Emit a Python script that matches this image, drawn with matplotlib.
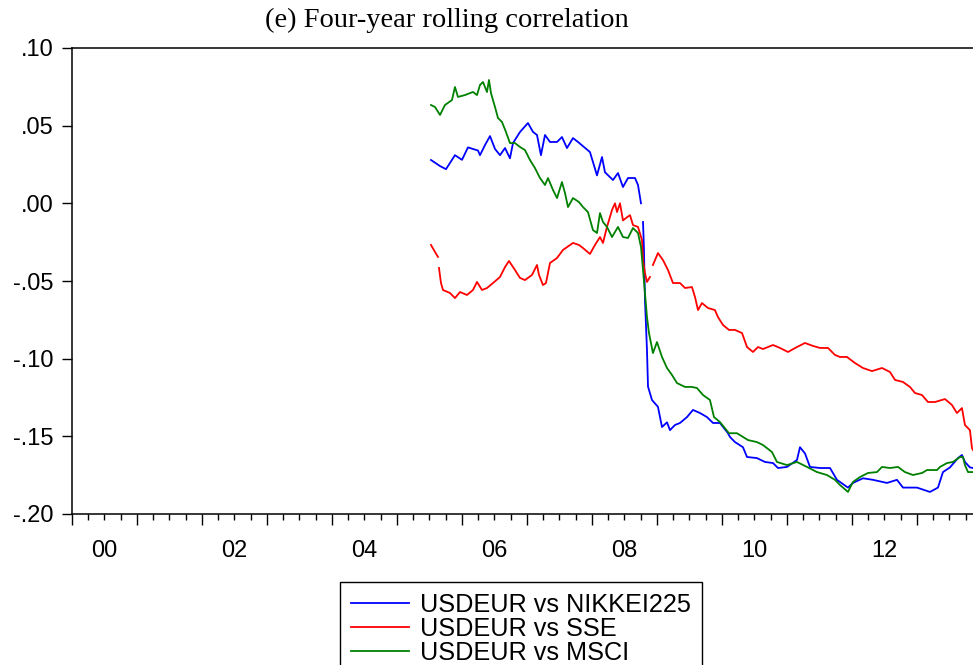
import numpy as np
import matplotlib
matplotlib.use('Agg')
import matplotlib.pyplot as plt
from matplotlib.ticker import MultipleLocator

plt.rcParams['font.family']=['Liberation Sans','DejaVu Sans']

# USDEUR vs NIKKEI225
t_nikkei=np.array([2005.523,2005.662,2005.754,2005.892,2006.000,2006.092,2006.246,2006.277,2006.354,2006.431,
    2006.508,2006.585,2006.662,2006.738,2006.785,2006.892,2007.015,2007.092,2007.154,2007.215,
    2007.277,2007.354,2007.462,2007.538,2007.615,2007.708,2007.785,2007.969,2008.077,2008.154,
    2008.200,2008.323,2008.400,2008.477,2008.554,2008.662,2008.708,2008.754,2008.770,2008.785,
    2008.800,2008.815,2008.846,2008.862,2008.923,2009.015,2009.077,2009.154,2009.200,2009.277,
    2009.354,2009.462,2009.554,2009.662,2009.769,2009.862,2009.969,2010.092,2010.123,2010.200,
    2010.323,2010.385,2010.538,2010.662,2010.785,2010.862,2011.000,2011.154,2011.200,2011.277,
    2011.354,2011.508,2011.662,2011.769,2011.938,2012.015,2012.169,2012.323,2012.538,2012.692,
    2012.785,2013.000,2013.200,2013.323,2013.400,2013.508,2013.631,2013.692,2013.738,2013.815,
    2013.862])
r_nikkei=np.array([.0279,.024,.022,.031,.028,.036,.034,.031,.0375,.0433,
    .035,.031,.0356,.029,.0388,.0459,.0517,.046,.044,.031,
    .044,.0395,.0395,.0427,.0356,.042,.0395,.033,.018,.0298,
    .020,.015,.0195,.0105,.0163,.0163,.0118,.000,np.nan,-.012,
    -.030,-.062,-.0944,-.118,-.1266,-.131,-.144,-.141,-.146,-.1427,
    -.1414,-.1376,-.133,-.135,-.1376,-.1414,-.1414,-.148,-.1504,-.1537,
    -.157,-.1633,-.164,-.1665,-.1672,-.1704,-.1697,-.1652,-.157,-.161,
    -.1697,-.1704,-.1704,-.178,-.183,-.180,-.177,-.178,-.180,-.178,
    -.183,-.183,-.1858,-.183,-.173,-.170,-.164,-.162,-.1665,-.170,
    -.1704])

# USDEUR vs SSE
t_sse=np.array([2005.523,2005.585,2005.631,2005.640,2005.646,2005.677,2005.708,2005.815,2005.892,2005.969,
    2006.077,2006.169,2006.231,2006.308,2006.385,2006.477,2006.585,2006.662,2006.723,2006.815,
    2006.892,2006.969,2007.077,2007.154,2007.185,2007.246,2007.292,2007.354,2007.462,2007.554,
    2007.708,2007.800,2007.862,2007.969,2008.046,2008.123,2008.169,2008.231,2008.308,2008.354,
    2008.385,2008.431,2008.477,2008.538,2008.585,2008.631,2008.708,2008.769,2008.785,2008.815,
    2008.846,2008.892,2008.915,2008.938,2009.015,2009.092,2009.169,2009.246,2009.354,2009.431,
    2009.538,2009.585,2009.631,2009.692,2009.785,2009.892,2009.938,2010.015,2010.108,2010.200,
    2010.308,2010.385,2010.477,2010.554,2010.631,2010.785,2010.892,2011.015,2011.154,2011.277,
    2011.400,2011.508,2011.631,2011.738,2011.815,2011.923,2012.046,2012.169,2012.308,2012.462,
    2012.585,2012.662,2012.785,2012.892,2012.969,2013.077,2013.169,2013.277,2013.431,2013.538,
    2013.615,2013.692,2013.738,2013.815,2013.846,2013.862])
r_sse=np.array([-.0268,-.0313,-.0345,np.nan,-.0416,-.0513,-.0558,-.0577,-.061,-.0571,
    -.059,-.0558,-.0506,-.0558,-.0545,-.0513,-.0474,-.041,-.0371,-.0429,
    -.048,-.0494,-.0461,-.0397,-.0461,-.0526,-.0513,-.0384,-.0352,-.030,
    -.0255,-.0268,-.0288,-.0326,-.0268,-.0217,-.0255,-.0152,-.0043,0.0,
    -.0056,0.0,-.011,-.009,-.0076,-.014,-.0152,-.0236,-.0365,-.0449,
    -.0506,-.0474,np.nan,-.0397,-.032,-.0365,-.0429,-.0513,-.0513,-.0545,
    -.0539,-.0603,-.0687,-.0642,-.0674,-.0687,-.0732,-.0783,-.0815,-.0815,
    -.0835,-.0925,-.0957,-.0925,-.0938,-.0912,-.0931,-.0957,-.0925,-.0899,
    -.0918,-.0931,-.0931,-.0976,-.0989,-.0989,-.1028,-.106,-.108,-.106,
    -.1086,-.1137,-.115,-.1182,-.1221,-.1234,-.1279,-.1279,-.126,-.1298,
    -.135,-.1318,-.1427,-.146,-.1575,-.1588])

# USDEUR vs MSCI
t_msci=np.array([2005.523,2005.585,2005.662,2005.738,2005.846,2005.892,2005.938,2006.046,2006.169,2006.231,
    2006.277,2006.323,2006.385,2006.415,2006.446,2006.508,2006.554,2006.615,2006.677,2006.738,
    2006.815,2006.892,2006.969,2007.046,2007.123,2007.200,2007.277,2007.323,2007.400,2007.462,
    2007.538,2007.585,2007.631,2007.708,2007.800,2007.862,2007.938,2008.015,2008.077,2008.123,
    2008.169,2008.231,2008.308,2008.400,2008.477,2008.554,2008.631,2008.708,2008.754,2008.785,
    2008.815,2008.846,2008.877,2008.938,2009.000,2009.077,2009.154,2009.231,2009.308,2009.431,
    2009.538,2009.615,2009.708,2009.815,2009.877,2009.969,2010.108,2010.231,2010.323,2010.400,
    2010.538,2010.631,2010.769,2010.846,2011.000,2011.154,2011.308,2011.462,2011.615,2011.738,
    2011.815,2011.938,2012.015,2012.123,2012.246,2012.385,2012.462,2012.585,2012.708,2012.815,
    2012.938,2013.077,2013.154,2013.308,2013.354,2013.462,2013.554,2013.662,2013.708,2013.738,
    2013.785,2013.862])
r_msci=np.array([.0633,.062,.0569,.0633,.0665,.0749,.0685,.0697,.0717,.0697,
    .0762,.0781,.0717,.0794,.071,.062,.0549,.0524,.0459,.0388,
    .0388,.0363,.0343,.0279,.0227,.0163,.0118,.0163,.0086,.0034,
    .0137,.0066,-.0024,.0034,.0008,-.0024,-.0056,-.0172,-.0191,-.0063,
    -.012,-.0152,-.0217,-.0152,-.0217,-.0223,-.0159,-.0191,-.0281,-.0429,
    -.0577,-.0732,-.0835,-.0964,-.0893,-.0989,-.106,-.1105,-.1157,-.1182,
    -.1182,-.1189,-.1234,-.1266,-.1376,-.1408,-.148,-.148,-.1504,-.1524,
    -.1537,-.1556,-.1601,-.1665,-.1685,-.1665,-.1697,-.173,-.1749,-.178,
    -.1813,-.1858,-.1794,-.1762,-.1736,-.173,-.1697,-.1704,-.1697,-.173,
    -.1749,-.1736,-.1717,-.1717,-.1697,-.1672,-.1665,-.1633,-.1633,-.1685,
    -.173,-.173])

series_names=['USDEUR vs NIKKEI225','USDEUR vs SSE','USDEUR vs MSCI']
ytick_vals=[-0.20,-0.15,-0.10,-0.05,0.00,0.05,0.10]
ytick_labels=['-.20','-.15','-.10','-.05','.00','.05','.10']
xlabel_years=[2000,2002,2004,2006,2008,2010,2012]
xlabel_text=['00','02','04','06','08','10','12']

fig=plt.figure(figsize=(9.73,6.65),dpi=100)
ax=fig.add_axes([72/973,1-514/665,1-72/973,466/665])

ax.plot(t_nikkei,r_nikkei,color='#0000ff',lw=1.3,label=series_names[0])
ax.plot(t_sse,r_sse,color='#ff0000',lw=1.3,label=series_names[1])
ax.plot(t_msci,r_msci,color='#008000',lw=1.3,label=series_names[2])

ax.set_xlim(2000,2013.862)
ax.set_ylim(-0.20,0.10)
ax.set_yticks(ytick_vals,ytick_labels)
ax.set_xticks(np.arange(2000,2014),[])
ax.xaxis.set_minor_locator(MultipleLocator(0.25))
ax.tick_params(axis='y',direction='out',length=7,width=1,pad=6,labelsize=17)
ax.tick_params(axis='x',which='major',direction='out',length=8,width=1)
ax.tick_params(axis='x',which='minor',direction='out',length=4.3,width=1)
ax.spines['right'].set_visible(False)
for s in ['left','bottom','top']:
    ax.spines[s].set_linewidth(1.1)

# year labels sit in the middle of the year
for yr,txt in zip(xlabel_years,xlabel_text):
    ax.annotate(txt,xy=(yr+0.5,0),xycoords=('data','axes fraction'),
                xytext=(0,-19),textcoords='offset points',ha='center',va='top',fontsize=17)

fig.text(447/973,1-20/665,'(e) Four-year rolling correlation',ha='center',va='center',
         family='Liberation Serif',fontsize=20.5)

leg=fig.legend(loc='upper left',bbox_to_anchor=(340/973,1-582/665),fancybox=False,
               edgecolor='black',framealpha=1,fontsize=18.2,handlelength=2.3,
               handletextpad=0.45,labelspacing=0.0,borderpad=0.42,borderaxespad=0)
leg.get_frame().set_linewidth(1)

fig.savefig('out.png',dpi=100)
